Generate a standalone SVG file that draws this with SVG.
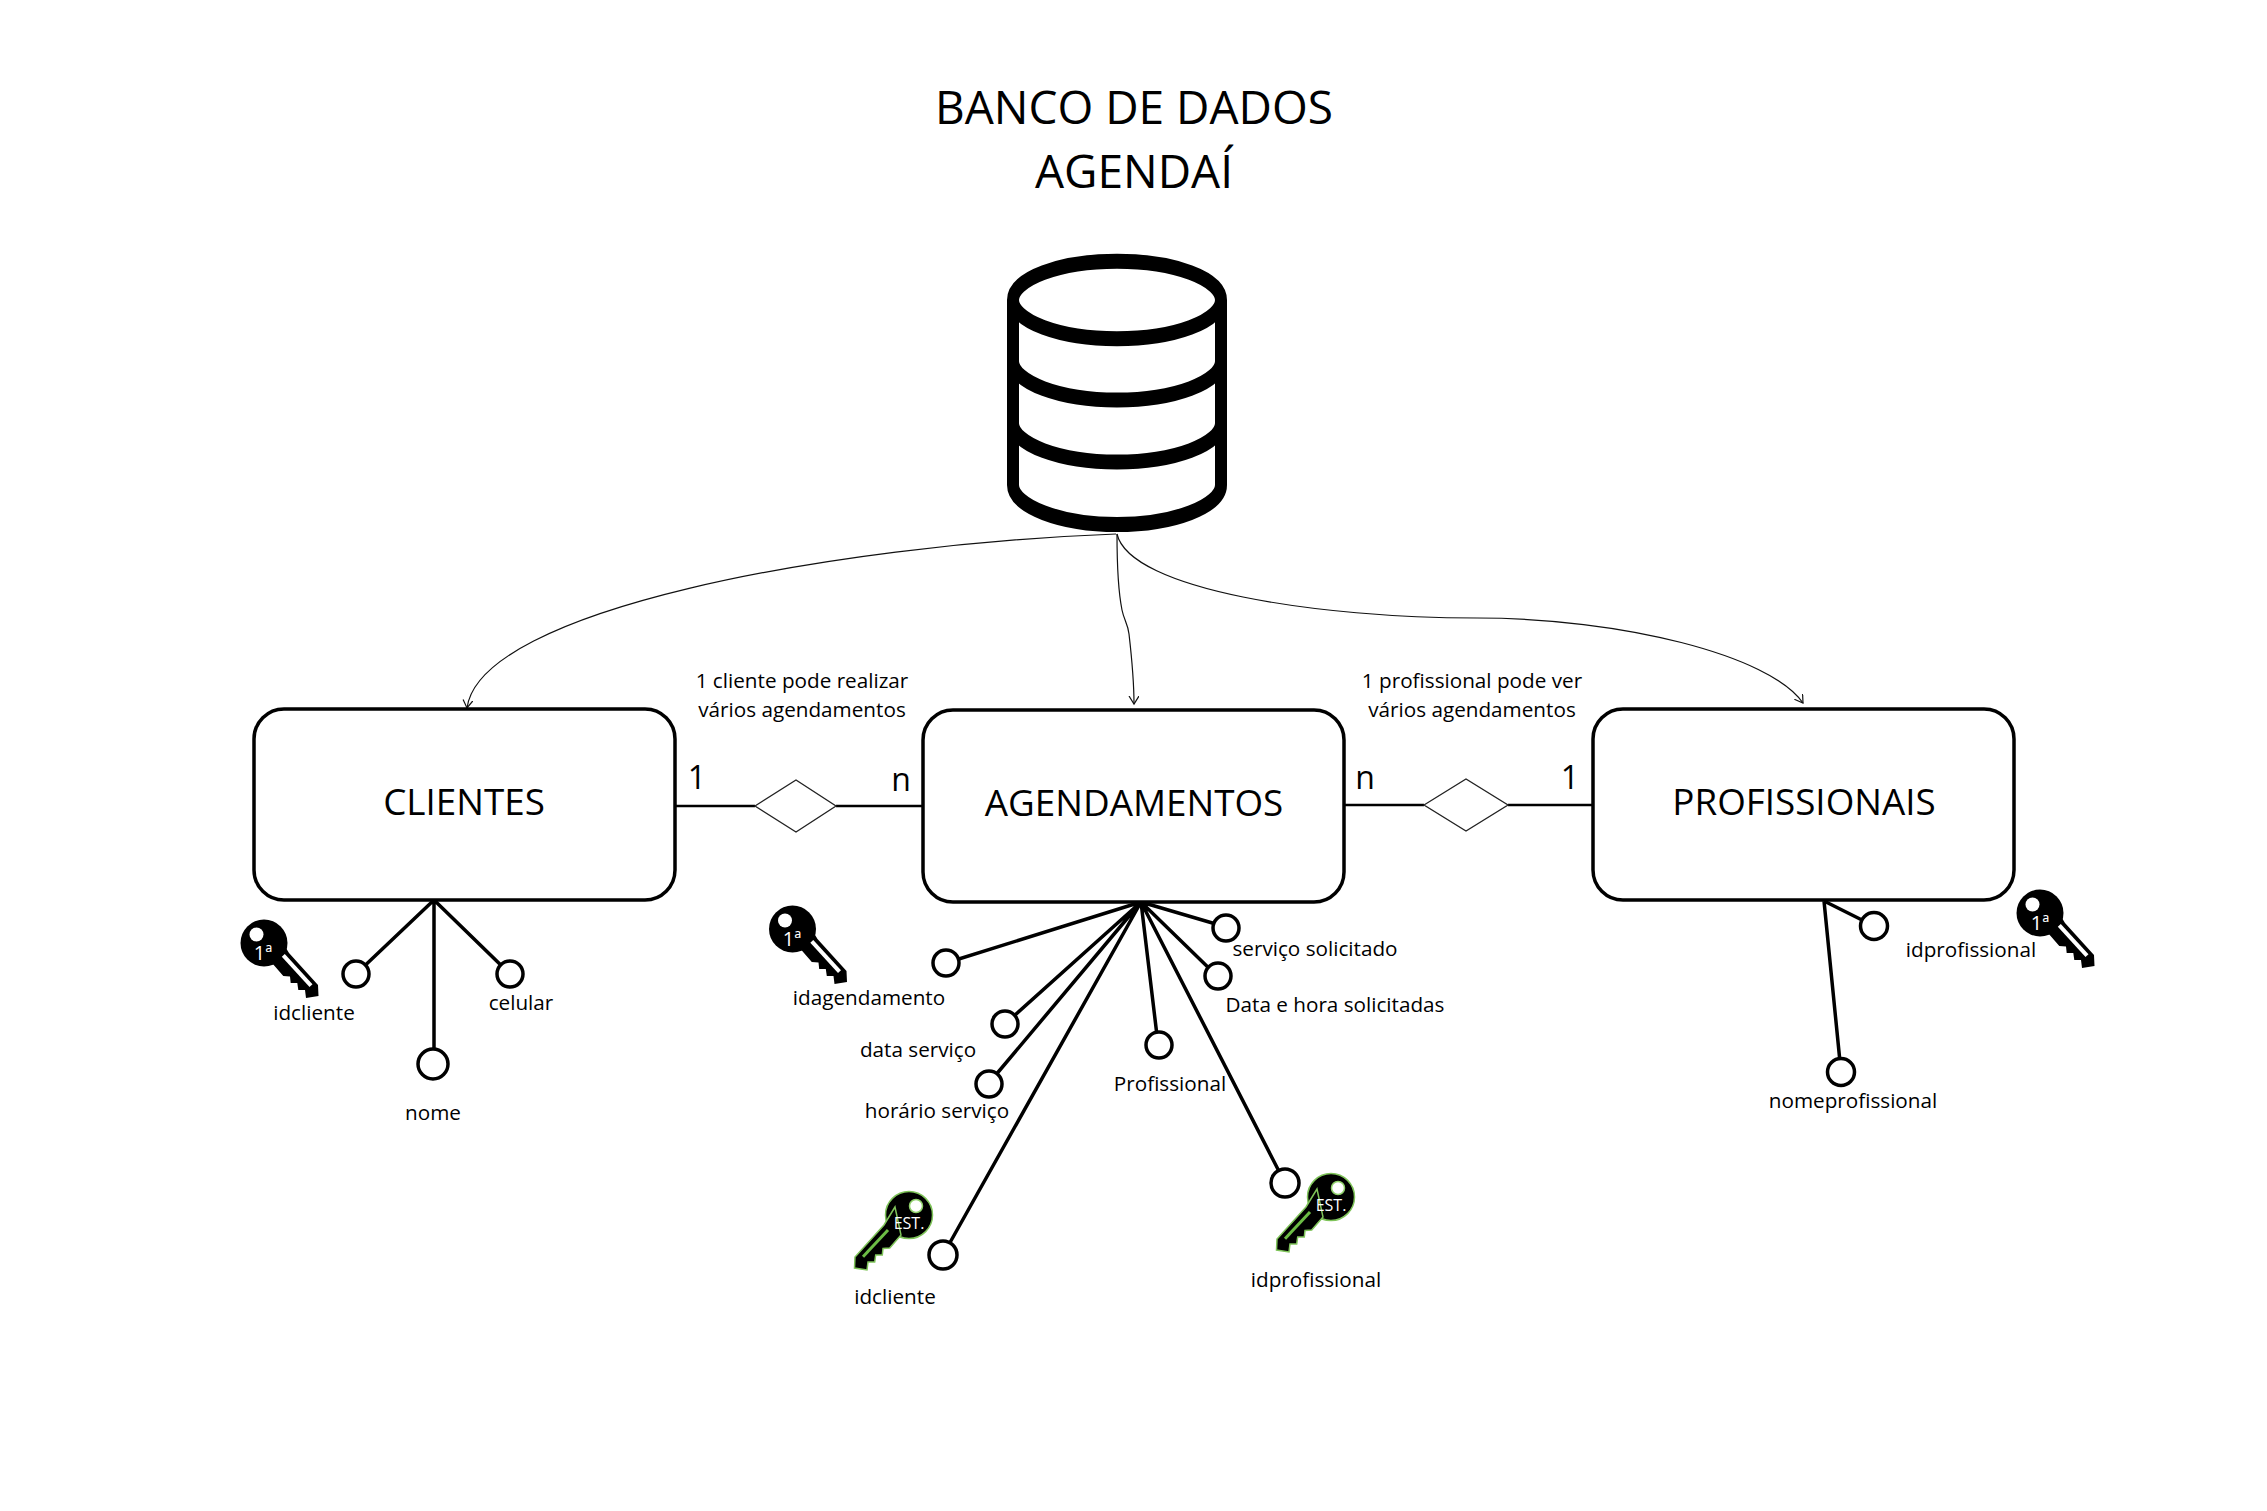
<svg xmlns="http://www.w3.org/2000/svg" width="2267" height="1511" viewBox="0 0 2267 1511">
<style>
text{font-family:"Open Sans","Noto Sans",sans-serif;fill:#000;text-anchor:middle}
.title{font-size:46px}
.ent{font-size:36.800px}
.card{font-size:32px}
.lbl{font-size:20.700px}
.box{fill:#fff;stroke:#000;stroke-width:3.5}
.attr{fill:#fff;stroke:#000;stroke-width:3.5}
.stem{stroke:#000;stroke-width:3.5;fill:none}
.rel{stroke:#000;stroke-width:2.5;fill:none}
.dia{fill:#fff;stroke:#222;stroke-width:1.3}
.thin{stroke:#111;stroke-width:1.2;fill:none;marker-end:url(#arr)}
.db{fill:none;stroke:#000;stroke-width:12}
.ktxt{font-size:20px}
.etxt{font-size:16px}
.ktxt,.etxt{fill:#fff}
</style>
<defs>
<marker id="arr" markerWidth="12" markerHeight="12" refX="8" refY="5" orient="auto" markerUnits="userSpaceOnUse"><path d="M0 0L8 5L0 10" fill="none" stroke="#111" stroke-width="1.2"/></marker>
<g id="keyShape">
<circle cx="0" cy="0" r="23.500"/>
<path d="M14 -8L25 10L54 42L54.500 53L42 55L41 47L34.300 47L33.300 40L26.700 40L26 33.500L19.300 33L8 20Z"/>
</g>
<g id="key1">
<use href="#keyShape" fill="#000"/>
<circle cx="-7.500" cy="-8.500" r="7" fill="#fff"/>
<path d="M19.300 12.400L47 42.700" stroke="#fff" stroke-width="4"/>
</g>
<g id="keyE">
<use href="#keyShape" fill="#000" stroke="#7fc45a" stroke-width="1.500" transform="scale(-1 1)"/>
<circle cx="7" cy="-9" r="6.500" fill="#fff" stroke="#8fd06a" stroke-width="1.500"/>
<path d="M-21 15L-46 41.700" stroke="#6cbd45" stroke-width="3"/>
</g>
</defs>
<rect width="2267" height="1511" fill="#fff"/>
<g id="title">
<text class="title" x="1134" y="124">BANCO DE DADOS</text>
<text class="title" x="1134" y="188">AGENDAÍ</text>
</g>
<g id="connectors">
<path class="thin" d="M1116 534C830 545 480 610 467 708"/>
<path class="thin" d="M1117 534C1117 560 1118 590 1122 610C1124 620 1128 624 1129 634C1132 660 1134 680 1134 704"/>
<path class="thin" d="M1117 534C1130 590 1320 618 1477 618C1620 618 1770 655 1803 703"/>
<path class="rel" d="M675 806H755M836 806H923M1344 805H1424M1508 805H1593"/>
<path class="stem" d="M434 900L356 974M434 900V1064M434 900L510 974"/>
<path class="stem" d="M1141 902L946 963M1141 902L1005 1024M1141 902L989 1083M1141 902L943 1255M1141 902L1158 1044M1141 902L1285 1183M1141 902L1217 976M1141 902L1226 927"/>
<path class="stem" d="M1824 901L1874 926M1824 901L1841 1072"/>
</g>
<g id="database" transform="scale(1 1.25)">
<ellipse class="db" cx="1117" cy="240" rx="104" ry="31"/>
<path class="db" d="M1013 240V388C1013 405 1060 419.600 1117 419.600C1174 419.600 1221 405 1221 388V240M1013 289C1013 306 1060 320 1117 320C1174 320 1221 306 1221 289M1013 338.600C1013 355.600 1060 369.600 1117 369.600C1174 369.600 1221 355.600 1221 338.600"/>
</g>
<g id="clientes">
<rect class="box" x="254" y="709" width="421" height="191" rx="30"/>
<text class="ent" x="464" y="815">CLIENTES</text>
</g>
<g id="agendamentos">
<rect class="box" x="923" y="710" width="421" height="192" rx="30"/>
<text class="ent" x="1134" y="816">AGENDAMENTOS</text>
</g>
<g id="profissionais">
<rect class="box" x="1593" y="709" width="421" height="191" rx="30"/>
<text class="ent" x="1804" y="815">PROFISSIONAIS</text>
</g>
<g id="rel-clientes-agendamentos">
<path class="dia" d="M755 806L796 780L836 806L796 832Z"/>
<text class="lbl" x="802" y="687.500">1 cliente pode realizar</text>
<text class="lbl" x="802" y="716.500">vários agendamentos</text>
<text class="card" x="697" y="789">1</text>
<text class="card" x="901" y="791">n</text>
</g>
<g id="rel-profissionais-agendamentos">
<path class="dia" d="M1424 805L1466 779L1508 805L1466 831Z"/>
<text class="lbl" x="1472" y="687.500">1 profissional pode ver</text>
<text class="lbl" x="1472" y="716.500">vários agendamentos</text>
<text class="card" x="1365" y="789">n</text>
<text class="card" x="1570" y="789">1</text>
</g>
<g id="attr-idcliente">
<circle class="attr" cx="356" cy="974" r="13"/>
<use href="#key1" x="264" y="943"/>
<text class="ktxt" x="263" y="960">1ª</text>
<text class="lbl" x="314" y="1019.500">idcliente</text>
</g>
<g id="attr-nome">
<circle class="attr" cx="433" cy="1064" r="15"/>
<text class="lbl" x="433" y="1119.500">nome</text>
</g>
<g id="attr-celular">
<circle class="attr" cx="510" cy="974" r="13"/>
<text class="lbl" x="521" y="1010">celular</text>
</g>
<g id="attr-idagendamento">
<circle class="attr" cx="946" cy="963" r="13"/>
<use href="#key1" x="792.500" y="929"/>
<text class="ktxt" x="792" y="946">1ª</text>
<text class="lbl" x="869" y="1004.500">idagendamento</text>
</g>
<g id="attr-data-servico">
<circle class="attr" cx="1005" cy="1024" r="13"/>
<text class="lbl" x="918" y="1056.500">data serviço</text>
</g>
<g id="attr-horario-servico">
<circle class="attr" cx="989" cy="1084" r="13"/>
<text class="lbl" x="937" y="1117.500">horário serviço</text>
</g>
<g id="attr-idcliente-fk">
<circle class="attr" cx="943" cy="1255" r="14"/>
<use href="#keyE" x="909" y="1215"/>
<text class="etxt" x="909" y="1229">EST.</text>
<text class="lbl" x="895" y="1303.500">idcliente</text>
</g>
<g id="attr-profissional">
<circle class="attr" cx="1159" cy="1045" r="13"/>
<text class="lbl" x="1170" y="1090.500">Profissional</text>
</g>
<g id="attr-idprofissional-fk">
<circle class="attr" cx="1285" cy="1183" r="14"/>
<use href="#keyE" x="1331" y="1197"/>
<text class="etxt" x="1331" y="1211">EST.</text>
<text class="lbl" x="1316" y="1286.500">idprofissional</text>
</g>
<g id="attr-data-hora">
<circle class="attr" cx="1218" cy="976" r="13"/>
<text class="lbl" x="1335" y="1011.500">Data e hora solicitadas</text>
</g>
<g id="attr-servico">
<circle class="attr" cx="1226" cy="928" r="13"/>
<text class="lbl" x="1315" y="955.500">serviço solicitado</text>
</g>
<g id="attr-idprofissional">
<circle class="attr" cx="1874" cy="926" r="13.500"/>
<use href="#key1" x="2040" y="913"/>
<text class="ktxt" x="2040" y="930">1ª</text>
<text class="lbl" x="1971" y="956.500">idprofissional</text>
</g>
<g id="attr-nomeprofissional">
<circle class="attr" cx="1841" cy="1072" r="13.500"/>
<text class="lbl" x="1853" y="1107.500">nomeprofissional</text>
</g>
</svg>
